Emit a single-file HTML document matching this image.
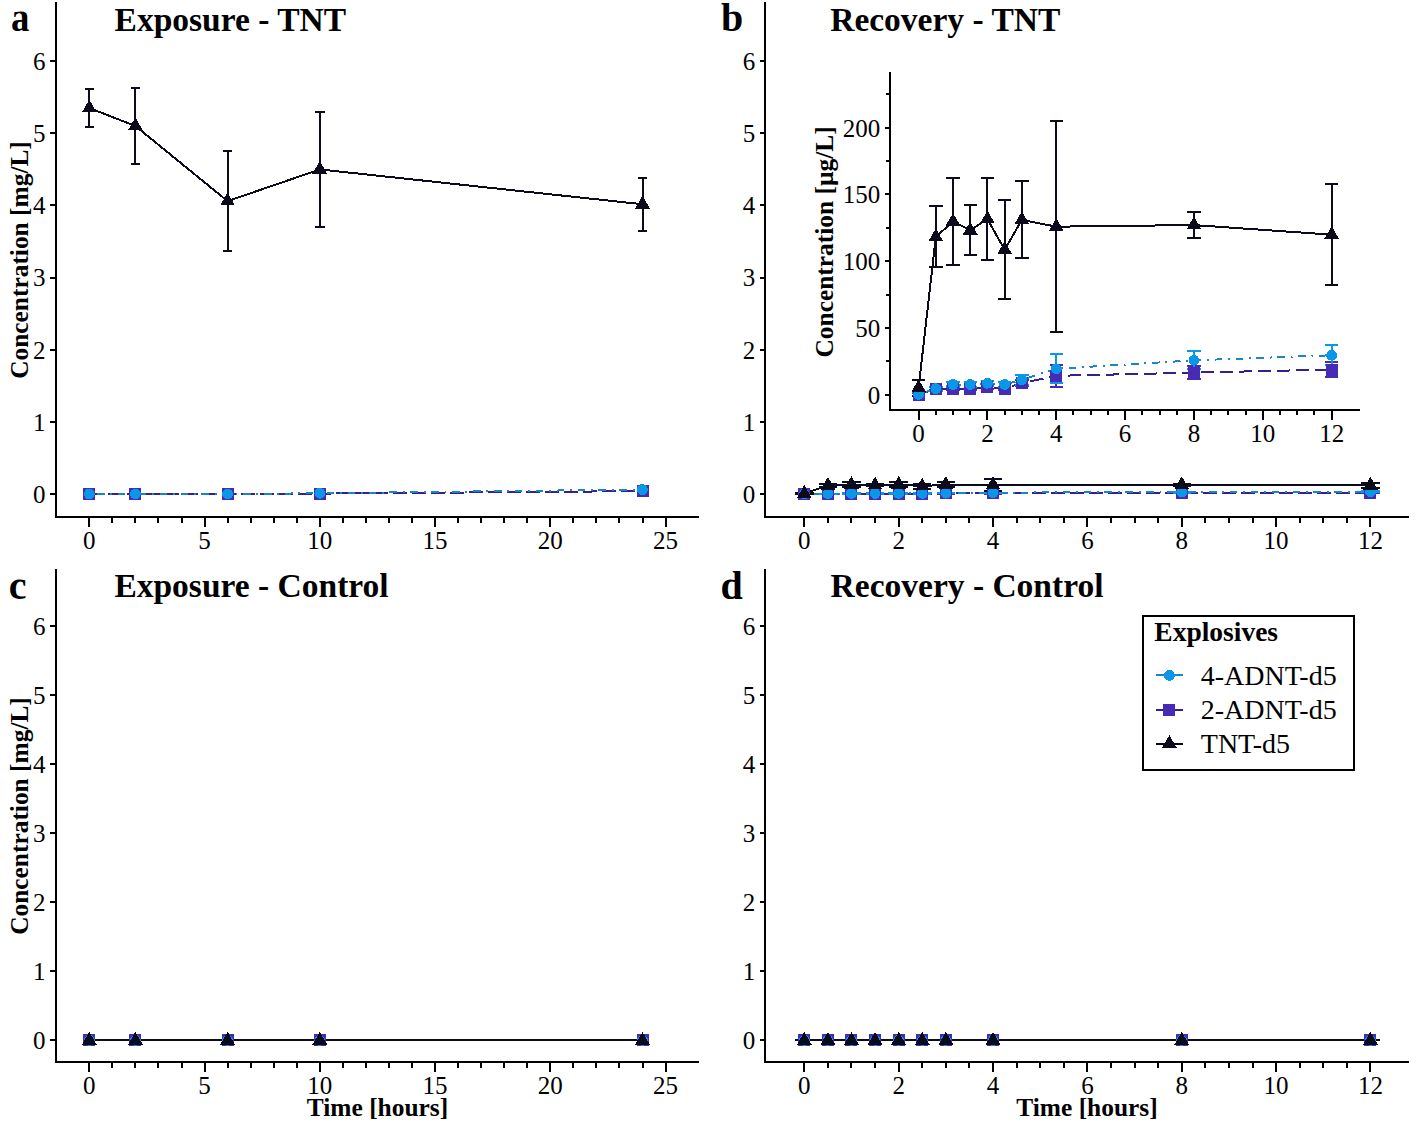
<!DOCTYPE html><html><head><meta charset="utf-8"><style>html,body{margin:0;padding:0;background:#fff;}svg{display:block;} line,rect,polyline,polygon,circle{shape-rendering:crispEdges;}text{font-family:"Liberation Serif", serif;fill:#000;}</style></head><body>
<svg width="1417" height="1127" viewBox="0 0 1417 1127">
<rect width="1417" height="1127" fill="#fff"/>
<line x1="55.7" y1="2.2" x2="55.7" y2="518.2" stroke="#000" stroke-width="2.0" stroke-linecap="butt"/>
<line x1="54.7" y1="517.2" x2="699.4" y2="517.2" stroke="#000" stroke-width="2.0" />
<line x1="50.2" y1="494" x2="55.7" y2="494" stroke="#000" stroke-width="2.0" />
<text x="45.6" y="502.8" font-size="25" text-anchor="end" >0</text>
<line x1="50.2" y1="421.87" x2="55.7" y2="421.87" stroke="#000" stroke-width="2.0" />
<text x="45.6" y="430.67" font-size="25" text-anchor="end" >1</text>
<line x1="50.2" y1="349.74" x2="55.7" y2="349.74" stroke="#000" stroke-width="2.0" />
<text x="45.6" y="358.54" font-size="25" text-anchor="end" >2</text>
<line x1="50.2" y1="277.61" x2="55.7" y2="277.61" stroke="#000" stroke-width="2.0" />
<text x="45.6" y="286.41" font-size="25" text-anchor="end" >3</text>
<line x1="50.2" y1="205.48" x2="55.7" y2="205.48" stroke="#000" stroke-width="2.0" />
<text x="45.6" y="214.28" font-size="25" text-anchor="end" >4</text>
<line x1="50.2" y1="133.35" x2="55.7" y2="133.35" stroke="#000" stroke-width="2.0" />
<text x="45.6" y="142.15" font-size="25" text-anchor="end" >5</text>
<line x1="50.2" y1="61.22" x2="55.7" y2="61.22" stroke="#000" stroke-width="2.0" />
<text x="45.6" y="70.02" font-size="25" text-anchor="end" >6</text>
<line x1="112.35" y1="517.2" x2="112.35" y2="522.5" stroke="#000" stroke-width="2.0" />
<line x1="135.4" y1="517.2" x2="135.4" y2="522.5" stroke="#000" stroke-width="2.0" />
<line x1="158.45" y1="517.2" x2="158.45" y2="522.5" stroke="#000" stroke-width="2.0" />
<line x1="181.5" y1="517.2" x2="181.5" y2="522.5" stroke="#000" stroke-width="2.0" />
<line x1="227.6" y1="517.2" x2="227.6" y2="522.5" stroke="#000" stroke-width="2.0" />
<line x1="250.65" y1="517.2" x2="250.65" y2="522.5" stroke="#000" stroke-width="2.0" />
<line x1="273.7" y1="517.2" x2="273.7" y2="522.5" stroke="#000" stroke-width="2.0" />
<line x1="296.75" y1="517.2" x2="296.75" y2="522.5" stroke="#000" stroke-width="2.0" />
<line x1="342.85" y1="517.2" x2="342.85" y2="522.5" stroke="#000" stroke-width="2.0" />
<line x1="365.9" y1="517.2" x2="365.9" y2="522.5" stroke="#000" stroke-width="2.0" />
<line x1="388.95" y1="517.2" x2="388.95" y2="522.5" stroke="#000" stroke-width="2.0" />
<line x1="412" y1="517.2" x2="412" y2="522.5" stroke="#000" stroke-width="2.0" />
<line x1="458.1" y1="517.2" x2="458.1" y2="522.5" stroke="#000" stroke-width="2.0" />
<line x1="481.15" y1="517.2" x2="481.15" y2="522.5" stroke="#000" stroke-width="2.0" />
<line x1="504.2" y1="517.2" x2="504.2" y2="522.5" stroke="#000" stroke-width="2.0" />
<line x1="527.25" y1="517.2" x2="527.25" y2="522.5" stroke="#000" stroke-width="2.0" />
<line x1="573.35" y1="517.2" x2="573.35" y2="522.5" stroke="#000" stroke-width="2.0" />
<line x1="596.4" y1="517.2" x2="596.4" y2="522.5" stroke="#000" stroke-width="2.0" />
<line x1="619.45" y1="517.2" x2="619.45" y2="522.5" stroke="#000" stroke-width="2.0" />
<line x1="642.5" y1="517.2" x2="642.5" y2="522.5" stroke="#000" stroke-width="2.0" />
<line x1="89.3" y1="517.2" x2="89.3" y2="527.2" stroke="#000" stroke-width="2.0" />
<text x="89.3" y="548.5" font-size="25" text-anchor="middle" >0</text>
<line x1="204.55" y1="517.2" x2="204.55" y2="527.2" stroke="#000" stroke-width="2.0" />
<text x="204.55" y="548.5" font-size="25" text-anchor="middle" >5</text>
<line x1="319.8" y1="517.2" x2="319.8" y2="527.2" stroke="#000" stroke-width="2.0" />
<text x="319.8" y="548.5" font-size="25" text-anchor="middle" >10</text>
<line x1="435.05" y1="517.2" x2="435.05" y2="527.2" stroke="#000" stroke-width="2.0" />
<text x="435.05" y="548.5" font-size="25" text-anchor="middle" >15</text>
<line x1="550.3" y1="517.2" x2="550.3" y2="527.2" stroke="#000" stroke-width="2.0" />
<text x="550.3" y="548.5" font-size="25" text-anchor="middle" >20</text>
<line x1="665.55" y1="517.2" x2="665.55" y2="527.2" stroke="#000" stroke-width="2.0" />
<text x="665.55" y="548.5" font-size="25" text-anchor="middle" >25</text>
<line x1="55.7" y1="569.2" x2="55.7" y2="1063.3" stroke="#000" stroke-width="2.0" stroke-linecap="butt"/>
<line x1="54.7" y1="1062.3" x2="699.4" y2="1062.3" stroke="#000" stroke-width="2.0" />
<line x1="50.2" y1="1040.4" x2="55.7" y2="1040.4" stroke="#000" stroke-width="2.0" />
<text x="45.6" y="1049.2" font-size="25" text-anchor="end" >0</text>
<line x1="50.2" y1="971.35" x2="55.7" y2="971.35" stroke="#000" stroke-width="2.0" />
<text x="45.6" y="980.15" font-size="25" text-anchor="end" >1</text>
<line x1="50.2" y1="902.3" x2="55.7" y2="902.3" stroke="#000" stroke-width="2.0" />
<text x="45.6" y="911.1" font-size="25" text-anchor="end" >2</text>
<line x1="50.2" y1="833.25" x2="55.7" y2="833.25" stroke="#000" stroke-width="2.0" />
<text x="45.6" y="842.05" font-size="25" text-anchor="end" >3</text>
<line x1="50.2" y1="764.2" x2="55.7" y2="764.2" stroke="#000" stroke-width="2.0" />
<text x="45.6" y="773" font-size="25" text-anchor="end" >4</text>
<line x1="50.2" y1="695.15" x2="55.7" y2="695.15" stroke="#000" stroke-width="2.0" />
<text x="45.6" y="703.95" font-size="25" text-anchor="end" >5</text>
<line x1="50.2" y1="626.1" x2="55.7" y2="626.1" stroke="#000" stroke-width="2.0" />
<text x="45.6" y="634.9" font-size="25" text-anchor="end" >6</text>
<line x1="112.35" y1="1062.3" x2="112.35" y2="1067.6" stroke="#000" stroke-width="2.0" />
<line x1="135.4" y1="1062.3" x2="135.4" y2="1067.6" stroke="#000" stroke-width="2.0" />
<line x1="158.45" y1="1062.3" x2="158.45" y2="1067.6" stroke="#000" stroke-width="2.0" />
<line x1="181.5" y1="1062.3" x2="181.5" y2="1067.6" stroke="#000" stroke-width="2.0" />
<line x1="227.6" y1="1062.3" x2="227.6" y2="1067.6" stroke="#000" stroke-width="2.0" />
<line x1="250.65" y1="1062.3" x2="250.65" y2="1067.6" stroke="#000" stroke-width="2.0" />
<line x1="273.7" y1="1062.3" x2="273.7" y2="1067.6" stroke="#000" stroke-width="2.0" />
<line x1="296.75" y1="1062.3" x2="296.75" y2="1067.6" stroke="#000" stroke-width="2.0" />
<line x1="342.85" y1="1062.3" x2="342.85" y2="1067.6" stroke="#000" stroke-width="2.0" />
<line x1="365.9" y1="1062.3" x2="365.9" y2="1067.6" stroke="#000" stroke-width="2.0" />
<line x1="388.95" y1="1062.3" x2="388.95" y2="1067.6" stroke="#000" stroke-width="2.0" />
<line x1="412" y1="1062.3" x2="412" y2="1067.6" stroke="#000" stroke-width="2.0" />
<line x1="458.1" y1="1062.3" x2="458.1" y2="1067.6" stroke="#000" stroke-width="2.0" />
<line x1="481.15" y1="1062.3" x2="481.15" y2="1067.6" stroke="#000" stroke-width="2.0" />
<line x1="504.2" y1="1062.3" x2="504.2" y2="1067.6" stroke="#000" stroke-width="2.0" />
<line x1="527.25" y1="1062.3" x2="527.25" y2="1067.6" stroke="#000" stroke-width="2.0" />
<line x1="573.35" y1="1062.3" x2="573.35" y2="1067.6" stroke="#000" stroke-width="2.0" />
<line x1="596.4" y1="1062.3" x2="596.4" y2="1067.6" stroke="#000" stroke-width="2.0" />
<line x1="619.45" y1="1062.3" x2="619.45" y2="1067.6" stroke="#000" stroke-width="2.0" />
<line x1="642.5" y1="1062.3" x2="642.5" y2="1067.6" stroke="#000" stroke-width="2.0" />
<line x1="89.3" y1="1062.3" x2="89.3" y2="1072.3" stroke="#000" stroke-width="2.0" />
<text x="89.3" y="1093.6" font-size="25" text-anchor="middle" >0</text>
<line x1="204.55" y1="1062.3" x2="204.55" y2="1072.3" stroke="#000" stroke-width="2.0" />
<text x="204.55" y="1093.6" font-size="25" text-anchor="middle" >5</text>
<line x1="319.8" y1="1062.3" x2="319.8" y2="1072.3" stroke="#000" stroke-width="2.0" />
<text x="319.8" y="1093.6" font-size="25" text-anchor="middle" >10</text>
<line x1="435.05" y1="1062.3" x2="435.05" y2="1072.3" stroke="#000" stroke-width="2.0" />
<text x="435.05" y="1093.6" font-size="25" text-anchor="middle" >15</text>
<line x1="550.3" y1="1062.3" x2="550.3" y2="1072.3" stroke="#000" stroke-width="2.0" />
<text x="550.3" y="1093.6" font-size="25" text-anchor="middle" >20</text>
<line x1="665.55" y1="1062.3" x2="665.55" y2="1072.3" stroke="#000" stroke-width="2.0" />
<text x="665.55" y="1093.6" font-size="25" text-anchor="middle" >25</text>
<line x1="765.3" y1="2.2" x2="765.3" y2="518.2" stroke="#000" stroke-width="2.0" stroke-linecap="butt"/>
<line x1="764.3" y1="517.2" x2="1409" y2="517.2" stroke="#000" stroke-width="2.0" />
<line x1="759.8" y1="494" x2="765.3" y2="494" stroke="#000" stroke-width="2.0" />
<text x="755.2" y="502.8" font-size="25" text-anchor="end" >0</text>
<line x1="759.8" y1="421.87" x2="765.3" y2="421.87" stroke="#000" stroke-width="2.0" />
<text x="755.2" y="430.67" font-size="25" text-anchor="end" >1</text>
<line x1="759.8" y1="349.74" x2="765.3" y2="349.74" stroke="#000" stroke-width="2.0" />
<text x="755.2" y="358.54" font-size="25" text-anchor="end" >2</text>
<line x1="759.8" y1="277.61" x2="765.3" y2="277.61" stroke="#000" stroke-width="2.0" />
<text x="755.2" y="286.41" font-size="25" text-anchor="end" >3</text>
<line x1="759.8" y1="205.48" x2="765.3" y2="205.48" stroke="#000" stroke-width="2.0" />
<text x="755.2" y="214.28" font-size="25" text-anchor="end" >4</text>
<line x1="759.8" y1="133.35" x2="765.3" y2="133.35" stroke="#000" stroke-width="2.0" />
<text x="755.2" y="142.15" font-size="25" text-anchor="end" >5</text>
<line x1="759.8" y1="61.22" x2="765.3" y2="61.22" stroke="#000" stroke-width="2.0" />
<text x="755.2" y="70.02" font-size="25" text-anchor="end" >6</text>
<line x1="827.89" y1="517.2" x2="827.89" y2="522.5" stroke="#000" stroke-width="2.0" />
<line x1="851.48" y1="517.2" x2="851.48" y2="522.5" stroke="#000" stroke-width="2.0" />
<line x1="875.07" y1="517.2" x2="875.07" y2="522.5" stroke="#000" stroke-width="2.0" />
<line x1="922.25" y1="517.2" x2="922.25" y2="522.5" stroke="#000" stroke-width="2.0" />
<line x1="945.84" y1="517.2" x2="945.84" y2="522.5" stroke="#000" stroke-width="2.0" />
<line x1="969.43" y1="517.2" x2="969.43" y2="522.5" stroke="#000" stroke-width="2.0" />
<line x1="1016.61" y1="517.2" x2="1016.61" y2="522.5" stroke="#000" stroke-width="2.0" />
<line x1="1040.2" y1="517.2" x2="1040.2" y2="522.5" stroke="#000" stroke-width="2.0" />
<line x1="1063.79" y1="517.2" x2="1063.79" y2="522.5" stroke="#000" stroke-width="2.0" />
<line x1="1110.97" y1="517.2" x2="1110.97" y2="522.5" stroke="#000" stroke-width="2.0" />
<line x1="1134.56" y1="517.2" x2="1134.56" y2="522.5" stroke="#000" stroke-width="2.0" />
<line x1="1158.15" y1="517.2" x2="1158.15" y2="522.5" stroke="#000" stroke-width="2.0" />
<line x1="1205.33" y1="517.2" x2="1205.33" y2="522.5" stroke="#000" stroke-width="2.0" />
<line x1="1228.92" y1="517.2" x2="1228.92" y2="522.5" stroke="#000" stroke-width="2.0" />
<line x1="1252.51" y1="517.2" x2="1252.51" y2="522.5" stroke="#000" stroke-width="2.0" />
<line x1="1299.69" y1="517.2" x2="1299.69" y2="522.5" stroke="#000" stroke-width="2.0" />
<line x1="1323.28" y1="517.2" x2="1323.28" y2="522.5" stroke="#000" stroke-width="2.0" />
<line x1="1346.87" y1="517.2" x2="1346.87" y2="522.5" stroke="#000" stroke-width="2.0" />
<line x1="804.3" y1="517.2" x2="804.3" y2="527.2" stroke="#000" stroke-width="2.0" />
<text x="804.3" y="548.5" font-size="25" text-anchor="middle" >0</text>
<line x1="898.66" y1="517.2" x2="898.66" y2="527.2" stroke="#000" stroke-width="2.0" />
<text x="898.66" y="548.5" font-size="25" text-anchor="middle" >2</text>
<line x1="993.02" y1="517.2" x2="993.02" y2="527.2" stroke="#000" stroke-width="2.0" />
<text x="993.02" y="548.5" font-size="25" text-anchor="middle" >4</text>
<line x1="1087.38" y1="517.2" x2="1087.38" y2="527.2" stroke="#000" stroke-width="2.0" />
<text x="1087.38" y="548.5" font-size="25" text-anchor="middle" >6</text>
<line x1="1181.74" y1="517.2" x2="1181.74" y2="527.2" stroke="#000" stroke-width="2.0" />
<text x="1181.74" y="548.5" font-size="25" text-anchor="middle" >8</text>
<line x1="1276.1" y1="517.2" x2="1276.1" y2="527.2" stroke="#000" stroke-width="2.0" />
<text x="1276.1" y="548.5" font-size="25" text-anchor="middle" >10</text>
<line x1="1370.46" y1="517.2" x2="1370.46" y2="527.2" stroke="#000" stroke-width="2.0" />
<text x="1370.46" y="548.5" font-size="25" text-anchor="middle" >12</text>
<line x1="765.3" y1="569.2" x2="765.3" y2="1063.3" stroke="#000" stroke-width="2.0" stroke-linecap="butt"/>
<line x1="764.3" y1="1062.3" x2="1409" y2="1062.3" stroke="#000" stroke-width="2.0" />
<line x1="759.8" y1="1040.4" x2="765.3" y2="1040.4" stroke="#000" stroke-width="2.0" />
<text x="755.2" y="1049.2" font-size="25" text-anchor="end" >0</text>
<line x1="759.8" y1="971.35" x2="765.3" y2="971.35" stroke="#000" stroke-width="2.0" />
<text x="755.2" y="980.15" font-size="25" text-anchor="end" >1</text>
<line x1="759.8" y1="902.3" x2="765.3" y2="902.3" stroke="#000" stroke-width="2.0" />
<text x="755.2" y="911.1" font-size="25" text-anchor="end" >2</text>
<line x1="759.8" y1="833.25" x2="765.3" y2="833.25" stroke="#000" stroke-width="2.0" />
<text x="755.2" y="842.05" font-size="25" text-anchor="end" >3</text>
<line x1="759.8" y1="764.2" x2="765.3" y2="764.2" stroke="#000" stroke-width="2.0" />
<text x="755.2" y="773" font-size="25" text-anchor="end" >4</text>
<line x1="759.8" y1="695.15" x2="765.3" y2="695.15" stroke="#000" stroke-width="2.0" />
<text x="755.2" y="703.95" font-size="25" text-anchor="end" >5</text>
<line x1="759.8" y1="626.1" x2="765.3" y2="626.1" stroke="#000" stroke-width="2.0" />
<text x="755.2" y="634.9" font-size="25" text-anchor="end" >6</text>
<line x1="827.89" y1="1062.3" x2="827.89" y2="1067.6" stroke="#000" stroke-width="2.0" />
<line x1="851.48" y1="1062.3" x2="851.48" y2="1067.6" stroke="#000" stroke-width="2.0" />
<line x1="875.07" y1="1062.3" x2="875.07" y2="1067.6" stroke="#000" stroke-width="2.0" />
<line x1="922.25" y1="1062.3" x2="922.25" y2="1067.6" stroke="#000" stroke-width="2.0" />
<line x1="945.84" y1="1062.3" x2="945.84" y2="1067.6" stroke="#000" stroke-width="2.0" />
<line x1="969.43" y1="1062.3" x2="969.43" y2="1067.6" stroke="#000" stroke-width="2.0" />
<line x1="1016.61" y1="1062.3" x2="1016.61" y2="1067.6" stroke="#000" stroke-width="2.0" />
<line x1="1040.2" y1="1062.3" x2="1040.2" y2="1067.6" stroke="#000" stroke-width="2.0" />
<line x1="1063.79" y1="1062.3" x2="1063.79" y2="1067.6" stroke="#000" stroke-width="2.0" />
<line x1="1110.97" y1="1062.3" x2="1110.97" y2="1067.6" stroke="#000" stroke-width="2.0" />
<line x1="1134.56" y1="1062.3" x2="1134.56" y2="1067.6" stroke="#000" stroke-width="2.0" />
<line x1="1158.15" y1="1062.3" x2="1158.15" y2="1067.6" stroke="#000" stroke-width="2.0" />
<line x1="1205.33" y1="1062.3" x2="1205.33" y2="1067.6" stroke="#000" stroke-width="2.0" />
<line x1="1228.92" y1="1062.3" x2="1228.92" y2="1067.6" stroke="#000" stroke-width="2.0" />
<line x1="1252.51" y1="1062.3" x2="1252.51" y2="1067.6" stroke="#000" stroke-width="2.0" />
<line x1="1299.69" y1="1062.3" x2="1299.69" y2="1067.6" stroke="#000" stroke-width="2.0" />
<line x1="1323.28" y1="1062.3" x2="1323.28" y2="1067.6" stroke="#000" stroke-width="2.0" />
<line x1="1346.87" y1="1062.3" x2="1346.87" y2="1067.6" stroke="#000" stroke-width="2.0" />
<line x1="804.3" y1="1062.3" x2="804.3" y2="1072.3" stroke="#000" stroke-width="2.0" />
<text x="804.3" y="1093.6" font-size="25" text-anchor="middle" >0</text>
<line x1="898.66" y1="1062.3" x2="898.66" y2="1072.3" stroke="#000" stroke-width="2.0" />
<text x="898.66" y="1093.6" font-size="25" text-anchor="middle" >2</text>
<line x1="993.02" y1="1062.3" x2="993.02" y2="1072.3" stroke="#000" stroke-width="2.0" />
<text x="993.02" y="1093.6" font-size="25" text-anchor="middle" >4</text>
<line x1="1087.38" y1="1062.3" x2="1087.38" y2="1072.3" stroke="#000" stroke-width="2.0" />
<text x="1087.38" y="1093.6" font-size="25" text-anchor="middle" >6</text>
<line x1="1181.74" y1="1062.3" x2="1181.74" y2="1072.3" stroke="#000" stroke-width="2.0" />
<text x="1181.74" y="1093.6" font-size="25" text-anchor="middle" >8</text>
<line x1="1276.1" y1="1062.3" x2="1276.1" y2="1072.3" stroke="#000" stroke-width="2.0" />
<text x="1276.1" y="1093.6" font-size="25" text-anchor="middle" >10</text>
<line x1="1370.46" y1="1062.3" x2="1370.46" y2="1072.3" stroke="#000" stroke-width="2.0" />
<text x="1370.46" y="1093.6" font-size="25" text-anchor="middle" >12</text>
<text x="114.6" y="30.5" font-size="33.5" text-anchor="start" font-weight="bold" >Exposure - TNT</text>
<text transform="translate(11.1,31.4) scale(0.92,1)" font-size="40" font-weight="bold">a</text>
<text x="830.2" y="30.5" font-size="33.5" text-anchor="start" font-weight="bold" >Recovery - TNT</text>
<text x="721.1" y="31.4" font-size="40" text-anchor="start" font-weight="bold" >b</text>
<text x="114.4" y="596.8" font-size="33.5" text-anchor="start" font-weight="bold" >Exposure - Control</text>
<text x="8.7" y="598.5" font-size="40" text-anchor="start" font-weight="bold" >c</text>
<text x="830.6" y="596.8" font-size="33.5" text-anchor="start" font-weight="bold" >Recovery - Control</text>
<text x="720.6" y="598.5" font-size="40" text-anchor="start" font-weight="bold" >d</text>
<text transform="translate(28.4,260.0) rotate(-90)" font-size="25.4" font-weight="bold" text-anchor="middle">Concentration [mg/L]</text>
<text transform="translate(28.4,816.0) rotate(-90)" font-size="25.4" font-weight="bold" text-anchor="middle">Concentration [mg/L]</text>
<text x="377.5" y="1115.9" font-size="25.4" text-anchor="middle" font-weight="bold" >Time [hours]</text>
<text x="1087" y="1115.9" font-size="25.4" text-anchor="middle" font-weight="bold" >Time [hours]</text>
<polyline points="89.3,494 135.4,494 227.6,494 319.8,493.64 642.5,491.11" fill="none" stroke="#36208f" stroke-width="2" stroke-dasharray="13.299999999999999,5.699999999999999" stroke-linejoin="round"/>
<polyline points="89.3,494 135.4,494 227.6,494 319.8,493.28 642.5,489.53" fill="none" stroke="#1b86c4" stroke-width="2" stroke-dasharray="1.9,5.699999999999999,7.6,5.699999999999999" stroke-linejoin="round"/>
<polyline points="89.3,108.03 135.4,125.99 227.6,201.15 319.8,169.42 642.5,204.25" fill="none" stroke="#0b0b1c" stroke-width="2"  stroke-linejoin="round"/>
<line x1="84.6" y1="494" x2="94" y2="494" stroke="#472bb5" stroke-width="2" />
<line x1="84.6" y1="494" x2="94" y2="494" stroke="#472bb5" stroke-width="2" />
<line x1="130.7" y1="494" x2="140.1" y2="494" stroke="#472bb5" stroke-width="2" />
<line x1="130.7" y1="494" x2="140.1" y2="494" stroke="#472bb5" stroke-width="2" />
<line x1="222.9" y1="494" x2="232.3" y2="494" stroke="#472bb5" stroke-width="2" />
<line x1="222.9" y1="494" x2="232.3" y2="494" stroke="#472bb5" stroke-width="2" />
<line x1="319.8" y1="493.35" x2="319.8" y2="493.93" stroke="#472bb5" stroke-width="2" />
<line x1="315.1" y1="493.35" x2="324.5" y2="493.35" stroke="#472bb5" stroke-width="2" />
<line x1="315.1" y1="493.93" x2="324.5" y2="493.93" stroke="#472bb5" stroke-width="2" />
<line x1="642.5" y1="490.54" x2="642.5" y2="491.69" stroke="#472bb5" stroke-width="2" />
<line x1="637.8" y1="490.54" x2="647.2" y2="490.54" stroke="#472bb5" stroke-width="2" />
<line x1="637.8" y1="491.69" x2="647.2" y2="491.69" stroke="#472bb5" stroke-width="2" />
<line x1="84.6" y1="494" x2="94" y2="494" stroke="#0a97e8" stroke-width="2" />
<line x1="84.6" y1="494" x2="94" y2="494" stroke="#0a97e8" stroke-width="2" />
<line x1="130.7" y1="494" x2="140.1" y2="494" stroke="#0a97e8" stroke-width="2" />
<line x1="130.7" y1="494" x2="140.1" y2="494" stroke="#0a97e8" stroke-width="2" />
<line x1="222.9" y1="494" x2="232.3" y2="494" stroke="#0a97e8" stroke-width="2" />
<line x1="222.9" y1="494" x2="232.3" y2="494" stroke="#0a97e8" stroke-width="2" />
<line x1="319.8" y1="492.92" x2="319.8" y2="493.64" stroke="#0a97e8" stroke-width="2" />
<line x1="315.1" y1="492.92" x2="324.5" y2="492.92" stroke="#0a97e8" stroke-width="2" />
<line x1="315.1" y1="493.64" x2="324.5" y2="493.64" stroke="#0a97e8" stroke-width="2" />
<line x1="642.5" y1="488.81" x2="642.5" y2="490.25" stroke="#0a97e8" stroke-width="2" />
<line x1="637.8" y1="488.81" x2="647.2" y2="488.81" stroke="#0a97e8" stroke-width="2" />
<line x1="637.8" y1="490.25" x2="647.2" y2="490.25" stroke="#0a97e8" stroke-width="2" />
<line x1="89.3" y1="89.49" x2="89.3" y2="126.57" stroke="#0b0b1c" stroke-width="2" />
<line x1="84.6" y1="89.49" x2="94" y2="89.49" stroke="#0b0b1c" stroke-width="2" />
<line x1="84.6" y1="126.57" x2="94" y2="126.57" stroke="#0b0b1c" stroke-width="2" />
<line x1="135.4" y1="88.27" x2="135.4" y2="163.72" stroke="#0b0b1c" stroke-width="2" />
<line x1="130.7" y1="88.27" x2="140.1" y2="88.27" stroke="#0b0b1c" stroke-width="2" />
<line x1="130.7" y1="163.72" x2="140.1" y2="163.72" stroke="#0b0b1c" stroke-width="2" />
<line x1="227.6" y1="151.02" x2="227.6" y2="251.28" stroke="#0b0b1c" stroke-width="2" />
<line x1="222.9" y1="151.02" x2="232.3" y2="151.02" stroke="#0b0b1c" stroke-width="2" />
<line x1="222.9" y1="251.28" x2="232.3" y2="251.28" stroke="#0b0b1c" stroke-width="2" />
<line x1="319.8" y1="111.71" x2="319.8" y2="227.12" stroke="#0b0b1c" stroke-width="2" />
<line x1="315.1" y1="111.71" x2="324.5" y2="111.71" stroke="#0b0b1c" stroke-width="2" />
<line x1="315.1" y1="227.12" x2="324.5" y2="227.12" stroke="#0b0b1c" stroke-width="2" />
<line x1="642.5" y1="178" x2="642.5" y2="230.51" stroke="#0b0b1c" stroke-width="2" />
<line x1="637.8" y1="178" x2="647.2" y2="178" stroke="#0b0b1c" stroke-width="2" />
<line x1="637.8" y1="230.51" x2="647.2" y2="230.51" stroke="#0b0b1c" stroke-width="2" />
<rect x="83.3" y="488" width="12" height="12" fill="#472bb5"/>
<rect x="129.4" y="488" width="12" height="12" fill="#472bb5"/>
<rect x="221.6" y="488" width="12" height="12" fill="#472bb5"/>
<rect x="313.8" y="487.64" width="12" height="12" fill="#472bb5"/>
<rect x="636.5" y="485.11" width="12" height="12" fill="#472bb5"/>
<circle cx="89.3" cy="494" r="5.4" fill="#0a97e8"/>
<circle cx="135.4" cy="494" r="5.4" fill="#0a97e8"/>
<circle cx="227.6" cy="494" r="5.4" fill="#0a97e8"/>
<circle cx="319.8" cy="493.28" r="5.4" fill="#0a97e8"/>
<circle cx="642.5" cy="489.53" r="5.4" fill="#0a97e8"/>
<polygon points="89.3,99.49 96.7,112.3 81.9,112.3" fill="#0b0b1c"/>
<polygon points="135.4,117.45 142.8,130.27 128,130.27" fill="#0b0b1c"/>
<polygon points="227.6,192.61 235,205.42 220.2,205.42" fill="#0b0b1c"/>
<polygon points="319.8,160.87 327.2,173.69 312.4,173.69" fill="#0b0b1c"/>
<polygon points="642.5,195.71 649.9,208.53 635.1,208.53" fill="#0b0b1c"/>
<polyline points="89.3,1040.4 135.4,1040.4 227.6,1040.4 319.8,1040.4 642.5,1040.4" fill="none" stroke="#36208f" stroke-width="2" stroke-dasharray="13.299999999999999,5.699999999999999" stroke-linejoin="round"/>
<polyline points="89.3,1040.4 135.4,1040.4 227.6,1040.4 319.8,1040.4 642.5,1040.4" fill="none" stroke="#1b86c4" stroke-width="2" stroke-dasharray="1.9,5.699999999999999,7.6,5.699999999999999" stroke-linejoin="round"/>
<polyline points="89.3,1040.4 135.4,1040.4 227.6,1040.4 319.8,1040.4 642.5,1040.4" fill="none" stroke="#0b0b1c" stroke-width="2"  stroke-linejoin="round"/>
<line x1="84.6" y1="1040.4" x2="94" y2="1040.4" stroke="#472bb5" stroke-width="2" />
<line x1="84.6" y1="1040.4" x2="94" y2="1040.4" stroke="#472bb5" stroke-width="2" />
<line x1="130.7" y1="1040.4" x2="140.1" y2="1040.4" stroke="#472bb5" stroke-width="2" />
<line x1="130.7" y1="1040.4" x2="140.1" y2="1040.4" stroke="#472bb5" stroke-width="2" />
<line x1="222.9" y1="1040.4" x2="232.3" y2="1040.4" stroke="#472bb5" stroke-width="2" />
<line x1="222.9" y1="1040.4" x2="232.3" y2="1040.4" stroke="#472bb5" stroke-width="2" />
<line x1="315.1" y1="1040.4" x2="324.5" y2="1040.4" stroke="#472bb5" stroke-width="2" />
<line x1="315.1" y1="1040.4" x2="324.5" y2="1040.4" stroke="#472bb5" stroke-width="2" />
<line x1="637.8" y1="1040.4" x2="647.2" y2="1040.4" stroke="#472bb5" stroke-width="2" />
<line x1="637.8" y1="1040.4" x2="647.2" y2="1040.4" stroke="#472bb5" stroke-width="2" />
<line x1="84.6" y1="1040.4" x2="94" y2="1040.4" stroke="#0a97e8" stroke-width="2" />
<line x1="84.6" y1="1040.4" x2="94" y2="1040.4" stroke="#0a97e8" stroke-width="2" />
<line x1="130.7" y1="1040.4" x2="140.1" y2="1040.4" stroke="#0a97e8" stroke-width="2" />
<line x1="130.7" y1="1040.4" x2="140.1" y2="1040.4" stroke="#0a97e8" stroke-width="2" />
<line x1="222.9" y1="1040.4" x2="232.3" y2="1040.4" stroke="#0a97e8" stroke-width="2" />
<line x1="222.9" y1="1040.4" x2="232.3" y2="1040.4" stroke="#0a97e8" stroke-width="2" />
<line x1="315.1" y1="1040.4" x2="324.5" y2="1040.4" stroke="#0a97e8" stroke-width="2" />
<line x1="315.1" y1="1040.4" x2="324.5" y2="1040.4" stroke="#0a97e8" stroke-width="2" />
<line x1="637.8" y1="1040.4" x2="647.2" y2="1040.4" stroke="#0a97e8" stroke-width="2" />
<line x1="637.8" y1="1040.4" x2="647.2" y2="1040.4" stroke="#0a97e8" stroke-width="2" />
<line x1="84.6" y1="1040.4" x2="94" y2="1040.4" stroke="#0b0b1c" stroke-width="2" />
<line x1="84.6" y1="1040.4" x2="94" y2="1040.4" stroke="#0b0b1c" stroke-width="2" />
<line x1="130.7" y1="1040.4" x2="140.1" y2="1040.4" stroke="#0b0b1c" stroke-width="2" />
<line x1="130.7" y1="1040.4" x2="140.1" y2="1040.4" stroke="#0b0b1c" stroke-width="2" />
<line x1="222.9" y1="1040.4" x2="232.3" y2="1040.4" stroke="#0b0b1c" stroke-width="2" />
<line x1="222.9" y1="1040.4" x2="232.3" y2="1040.4" stroke="#0b0b1c" stroke-width="2" />
<line x1="315.1" y1="1040.4" x2="324.5" y2="1040.4" stroke="#0b0b1c" stroke-width="2" />
<line x1="315.1" y1="1040.4" x2="324.5" y2="1040.4" stroke="#0b0b1c" stroke-width="2" />
<line x1="637.8" y1="1040.4" x2="647.2" y2="1040.4" stroke="#0b0b1c" stroke-width="2" />
<line x1="637.8" y1="1040.4" x2="647.2" y2="1040.4" stroke="#0b0b1c" stroke-width="2" />
<rect x="83.3" y="1034.4" width="12" height="12" fill="#472bb5"/>
<rect x="129.4" y="1034.4" width="12" height="12" fill="#472bb5"/>
<rect x="221.6" y="1034.4" width="12" height="12" fill="#472bb5"/>
<rect x="313.8" y="1034.4" width="12" height="12" fill="#472bb5"/>
<rect x="636.5" y="1034.4" width="12" height="12" fill="#472bb5"/>
<circle cx="89.3" cy="1040.4" r="5.4" fill="#0a97e8"/>
<circle cx="135.4" cy="1040.4" r="5.4" fill="#0a97e8"/>
<circle cx="227.6" cy="1040.4" r="5.4" fill="#0a97e8"/>
<circle cx="319.8" cy="1040.4" r="5.4" fill="#0a97e8"/>
<circle cx="642.5" cy="1040.4" r="5.4" fill="#0a97e8"/>
<polygon points="89.3,1031.86 96.7,1044.67 81.9,1044.67" fill="#0b0b1c"/>
<polygon points="135.4,1031.86 142.8,1044.67 128,1044.67" fill="#0b0b1c"/>
<polygon points="227.6,1031.86 235,1044.67 220.2,1044.67" fill="#0b0b1c"/>
<polygon points="319.8,1031.86 327.2,1044.67 312.4,1044.67" fill="#0b0b1c"/>
<polygon points="642.5,1031.86 649.9,1044.67 635.1,1044.67" fill="#0b0b1c"/>
<polyline points="804.3,494 827.89,493.67 851.48,493.67 875.07,493.67 898.66,493.6 922.25,493.67 945.84,493.37 993.02,492.98 1181.74,492.8 1370.46,492.64" fill="none" stroke="#36208f" stroke-width="2" stroke-dasharray="13.299999999999999,5.699999999999999" stroke-linejoin="round"/>
<polyline points="804.3,493.98 827.89,493.67 851.48,493.44 875.07,493.44 898.66,493.38 922.25,493.44 945.84,493.18 993.02,492.59 1181.74,492.14 1370.46,491.86" fill="none" stroke="#1b86c4" stroke-width="2" stroke-dasharray="1.9,5.699999999999999,7.6,5.699999999999999" stroke-linejoin="round"/>
<polyline points="804.3,493.62 827.89,485.47 851.48,484.64 875.07,485.11 898.66,484.51 922.25,486.17 945.84,484.55 993.02,484.92 1181.74,484.83 1370.46,485.35" fill="none" stroke="#0b0b1c" stroke-width="2"  stroke-linejoin="round"/>
<line x1="795.1" y1="493.93" x2="813.5" y2="493.93" stroke="#472bb5" stroke-width="2" />
<line x1="795.1" y1="494.07" x2="813.5" y2="494.07" stroke="#472bb5" stroke-width="2" />
<line x1="818.69" y1="493.58" x2="837.09" y2="493.58" stroke="#472bb5" stroke-width="2" />
<line x1="818.69" y1="493.75" x2="837.09" y2="493.75" stroke="#472bb5" stroke-width="2" />
<line x1="842.28" y1="493.58" x2="860.68" y2="493.58" stroke="#472bb5" stroke-width="2" />
<line x1="842.28" y1="493.75" x2="860.68" y2="493.75" stroke="#472bb5" stroke-width="2" />
<line x1="865.87" y1="493.58" x2="884.27" y2="493.58" stroke="#472bb5" stroke-width="2" />
<line x1="865.87" y1="493.75" x2="884.27" y2="493.75" stroke="#472bb5" stroke-width="2" />
<line x1="889.46" y1="493.5" x2="907.86" y2="493.5" stroke="#472bb5" stroke-width="2" />
<line x1="889.46" y1="493.71" x2="907.86" y2="493.71" stroke="#472bb5" stroke-width="2" />
<line x1="913.05" y1="493.58" x2="931.45" y2="493.58" stroke="#472bb5" stroke-width="2" />
<line x1="913.05" y1="493.75" x2="931.45" y2="493.75" stroke="#472bb5" stroke-width="2" />
<line x1="936.64" y1="493.22" x2="955.04" y2="493.22" stroke="#472bb5" stroke-width="2" />
<line x1="936.64" y1="493.51" x2="955.04" y2="493.51" stroke="#472bb5" stroke-width="2" />
<line x1="993.02" y1="492.37" x2="993.02" y2="493.58" stroke="#472bb5" stroke-width="2" />
<line x1="983.82" y1="492.37" x2="1002.22" y2="492.37" stroke="#472bb5" stroke-width="2" />
<line x1="983.82" y1="493.58" x2="1002.22" y2="493.58" stroke="#472bb5" stroke-width="2" />
<line x1="1181.74" y1="492.44" x2="1181.74" y2="493.16" stroke="#472bb5" stroke-width="2" />
<line x1="1172.54" y1="492.44" x2="1190.94" y2="492.44" stroke="#472bb5" stroke-width="2" />
<line x1="1172.54" y1="493.16" x2="1190.94" y2="493.16" stroke="#472bb5" stroke-width="2" />
<line x1="1370.46" y1="492.23" x2="1370.46" y2="493.04" stroke="#472bb5" stroke-width="2" />
<line x1="1361.26" y1="492.23" x2="1379.66" y2="492.23" stroke="#472bb5" stroke-width="2" />
<line x1="1361.26" y1="493.04" x2="1379.66" y2="493.04" stroke="#472bb5" stroke-width="2" />
<line x1="795.1" y1="493.87" x2="813.5" y2="493.87" stroke="#0a97e8" stroke-width="2" />
<line x1="795.1" y1="494.09" x2="813.5" y2="494.09" stroke="#0a97e8" stroke-width="2" />
<line x1="818.69" y1="493.55" x2="837.09" y2="493.55" stroke="#0a97e8" stroke-width="2" />
<line x1="818.69" y1="493.78" x2="837.09" y2="493.78" stroke="#0a97e8" stroke-width="2" />
<line x1="842.28" y1="493.33" x2="860.68" y2="493.33" stroke="#0a97e8" stroke-width="2" />
<line x1="842.28" y1="493.56" x2="860.68" y2="493.56" stroke="#0a97e8" stroke-width="2" />
<line x1="865.87" y1="493.33" x2="884.27" y2="493.33" stroke="#0a97e8" stroke-width="2" />
<line x1="865.87" y1="493.56" x2="884.27" y2="493.56" stroke="#0a97e8" stroke-width="2" />
<line x1="889.46" y1="493.24" x2="907.86" y2="493.24" stroke="#0a97e8" stroke-width="2" />
<line x1="889.46" y1="493.52" x2="907.86" y2="493.52" stroke="#0a97e8" stroke-width="2" />
<line x1="913.05" y1="493.33" x2="931.45" y2="493.33" stroke="#0a97e8" stroke-width="2" />
<line x1="913.05" y1="493.56" x2="931.45" y2="493.56" stroke="#0a97e8" stroke-width="2" />
<line x1="945.84" y1="492.93" x2="945.84" y2="493.44" stroke="#0a97e8" stroke-width="2" />
<line x1="936.64" y1="492.93" x2="955.04" y2="492.93" stroke="#0a97e8" stroke-width="2" />
<line x1="936.64" y1="493.44" x2="955.04" y2="493.44" stroke="#0a97e8" stroke-width="2" />
<line x1="993.02" y1="491.8" x2="993.02" y2="493.39" stroke="#0a97e8" stroke-width="2" />
<line x1="983.82" y1="491.8" x2="1002.22" y2="491.8" stroke="#0a97e8" stroke-width="2" />
<line x1="983.82" y1="493.39" x2="1002.22" y2="493.39" stroke="#0a97e8" stroke-width="2" />
<line x1="1181.74" y1="491.66" x2="1181.74" y2="492.62" stroke="#0a97e8" stroke-width="2" />
<line x1="1172.54" y1="491.66" x2="1190.94" y2="491.66" stroke="#0a97e8" stroke-width="2" />
<line x1="1172.54" y1="492.62" x2="1190.94" y2="492.62" stroke="#0a97e8" stroke-width="2" />
<line x1="1370.46" y1="491.32" x2="1370.46" y2="492.41" stroke="#0a97e8" stroke-width="2" />
<line x1="1361.26" y1="491.32" x2="1379.66" y2="491.32" stroke="#0a97e8" stroke-width="2" />
<line x1="1361.26" y1="492.41" x2="1379.66" y2="492.41" stroke="#0a97e8" stroke-width="2" />
<line x1="804.3" y1="493.19" x2="804.3" y2="494.06" stroke="#0b0b1c" stroke-width="2" />
<line x1="795.1" y1="493.19" x2="813.5" y2="493.19" stroke="#0b0b1c" stroke-width="2" />
<line x1="795.1" y1="494.06" x2="813.5" y2="494.06" stroke="#0b0b1c" stroke-width="2" />
<line x1="827.89" y1="483.83" x2="827.89" y2="487.12" stroke="#0b0b1c" stroke-width="2" />
<line x1="818.69" y1="483.83" x2="837.09" y2="483.83" stroke="#0b0b1c" stroke-width="2" />
<line x1="818.69" y1="487.12" x2="837.09" y2="487.12" stroke="#0b0b1c" stroke-width="2" />
<line x1="851.48" y1="482.29" x2="851.48" y2="486.99" stroke="#0b0b1c" stroke-width="2" />
<line x1="842.28" y1="482.29" x2="860.68" y2="482.29" stroke="#0b0b1c" stroke-width="2" />
<line x1="842.28" y1="486.99" x2="860.68" y2="486.99" stroke="#0b0b1c" stroke-width="2" />
<line x1="875.07" y1="483.76" x2="875.07" y2="486.46" stroke="#0b0b1c" stroke-width="2" />
<line x1="865.87" y1="483.76" x2="884.27" y2="483.76" stroke="#0b0b1c" stroke-width="2" />
<line x1="865.87" y1="486.46" x2="884.27" y2="486.46" stroke="#0b0b1c" stroke-width="2" />
<line x1="898.66" y1="482.29" x2="898.66" y2="486.73" stroke="#0b0b1c" stroke-width="2" />
<line x1="889.46" y1="482.29" x2="907.86" y2="482.29" stroke="#0b0b1c" stroke-width="2" />
<line x1="889.46" y1="486.73" x2="907.86" y2="486.73" stroke="#0b0b1c" stroke-width="2" />
<line x1="922.25" y1="483.51" x2="922.25" y2="488.83" stroke="#0b0b1c" stroke-width="2" />
<line x1="913.05" y1="483.51" x2="931.45" y2="483.51" stroke="#0b0b1c" stroke-width="2" />
<line x1="913.05" y1="488.83" x2="931.45" y2="488.83" stroke="#0b0b1c" stroke-width="2" />
<line x1="945.84" y1="482.47" x2="945.84" y2="486.63" stroke="#0b0b1c" stroke-width="2" />
<line x1="936.64" y1="482.47" x2="955.04" y2="482.47" stroke="#0b0b1c" stroke-width="2" />
<line x1="936.64" y1="486.63" x2="955.04" y2="486.63" stroke="#0b0b1c" stroke-width="2" />
<line x1="993.02" y1="479.22" x2="993.02" y2="490.62" stroke="#0b0b1c" stroke-width="2" />
<line x1="983.82" y1="479.22" x2="1002.22" y2="479.22" stroke="#0b0b1c" stroke-width="2" />
<line x1="983.82" y1="490.62" x2="1002.22" y2="490.62" stroke="#0b0b1c" stroke-width="2" />
<line x1="1181.74" y1="484.11" x2="1181.74" y2="485.55" stroke="#0b0b1c" stroke-width="2" />
<line x1="1172.54" y1="484.11" x2="1190.94" y2="484.11" stroke="#0b0b1c" stroke-width="2" />
<line x1="1172.54" y1="485.55" x2="1190.94" y2="485.55" stroke="#0b0b1c" stroke-width="2" />
<line x1="1370.46" y1="482.63" x2="1370.46" y2="488.08" stroke="#0b0b1c" stroke-width="2" />
<line x1="1361.26" y1="482.63" x2="1379.66" y2="482.63" stroke="#0b0b1c" stroke-width="2" />
<line x1="1361.26" y1="488.08" x2="1379.66" y2="488.08" stroke="#0b0b1c" stroke-width="2" />
<rect x="798.3" y="488" width="12" height="12" fill="#472bb5"/>
<rect x="821.89" y="487.67" width="12" height="12" fill="#472bb5"/>
<rect x="845.48" y="487.67" width="12" height="12" fill="#472bb5"/>
<rect x="869.07" y="487.67" width="12" height="12" fill="#472bb5"/>
<rect x="892.66" y="487.6" width="12" height="12" fill="#472bb5"/>
<rect x="916.25" y="487.67" width="12" height="12" fill="#472bb5"/>
<rect x="939.84" y="487.37" width="12" height="12" fill="#472bb5"/>
<rect x="987.02" y="486.98" width="12" height="12" fill="#472bb5"/>
<rect x="1175.74" y="486.8" width="12" height="12" fill="#472bb5"/>
<rect x="1364.46" y="486.64" width="12" height="12" fill="#472bb5"/>
<circle cx="804.3" cy="493.98" r="5.4" fill="#0a97e8"/>
<circle cx="827.89" cy="493.67" r="5.4" fill="#0a97e8"/>
<circle cx="851.48" cy="493.44" r="5.4" fill="#0a97e8"/>
<circle cx="875.07" cy="493.44" r="5.4" fill="#0a97e8"/>
<circle cx="898.66" cy="493.38" r="5.4" fill="#0a97e8"/>
<circle cx="922.25" cy="493.44" r="5.4" fill="#0a97e8"/>
<circle cx="945.84" cy="493.18" r="5.4" fill="#0a97e8"/>
<circle cx="993.02" cy="492.59" r="5.4" fill="#0a97e8"/>
<circle cx="1181.74" cy="492.14" r="5.4" fill="#0a97e8"/>
<circle cx="1370.46" cy="491.86" r="5.4" fill="#0a97e8"/>
<polygon points="804.3,485.08 811.7,497.9 796.9,497.9" fill="#0b0b1c"/>
<polygon points="827.89,476.93 835.29,489.75 820.49,489.75" fill="#0b0b1c"/>
<polygon points="851.48,476.09 858.88,488.91 844.08,488.91" fill="#0b0b1c"/>
<polygon points="875.07,476.57 882.47,489.39 867.67,489.39" fill="#0b0b1c"/>
<polygon points="898.66,475.96 906.06,488.78 891.26,488.78" fill="#0b0b1c"/>
<polygon points="922.25,477.62 929.65,490.44 914.85,490.44" fill="#0b0b1c"/>
<polygon points="945.84,476.01 953.24,488.82 938.44,488.82" fill="#0b0b1c"/>
<polygon points="993.02,476.37 1000.42,489.19 985.62,489.19" fill="#0b0b1c"/>
<polygon points="1181.74,476.29 1189.14,489.1 1174.34,489.1" fill="#0b0b1c"/>
<polygon points="1370.46,476.81 1377.86,489.62 1363.06,489.62" fill="#0b0b1c"/>
<polyline points="804.3,1040.4 827.89,1040.4 851.48,1040.4 875.07,1040.4 898.66,1040.4 922.25,1040.4 945.84,1040.4 993.02,1040.4 1181.74,1040.4 1370.46,1040.4" fill="none" stroke="#36208f" stroke-width="2" stroke-dasharray="13.299999999999999,5.699999999999999" stroke-linejoin="round"/>
<polyline points="804.3,1040.4 827.89,1040.4 851.48,1040.4 875.07,1040.4 898.66,1040.4 922.25,1040.4 945.84,1040.4 993.02,1040.4 1181.74,1040.4 1370.46,1040.4" fill="none" stroke="#1b86c4" stroke-width="2" stroke-dasharray="1.9,5.699999999999999,7.6,5.699999999999999" stroke-linejoin="round"/>
<polyline points="804.3,1040.4 827.89,1040.4 851.48,1040.4 875.07,1040.4 898.66,1040.4 922.25,1040.4 945.84,1040.4 993.02,1040.4 1181.74,1040.4 1370.46,1040.4" fill="none" stroke="#0b0b1c" stroke-width="2"  stroke-linejoin="round"/>
<line x1="795.1" y1="1040.4" x2="813.5" y2="1040.4" stroke="#472bb5" stroke-width="2" />
<line x1="795.1" y1="1040.4" x2="813.5" y2="1040.4" stroke="#472bb5" stroke-width="2" />
<line x1="818.69" y1="1040.4" x2="837.09" y2="1040.4" stroke="#472bb5" stroke-width="2" />
<line x1="818.69" y1="1040.4" x2="837.09" y2="1040.4" stroke="#472bb5" stroke-width="2" />
<line x1="842.28" y1="1040.4" x2="860.68" y2="1040.4" stroke="#472bb5" stroke-width="2" />
<line x1="842.28" y1="1040.4" x2="860.68" y2="1040.4" stroke="#472bb5" stroke-width="2" />
<line x1="865.87" y1="1040.4" x2="884.27" y2="1040.4" stroke="#472bb5" stroke-width="2" />
<line x1="865.87" y1="1040.4" x2="884.27" y2="1040.4" stroke="#472bb5" stroke-width="2" />
<line x1="889.46" y1="1040.4" x2="907.86" y2="1040.4" stroke="#472bb5" stroke-width="2" />
<line x1="889.46" y1="1040.4" x2="907.86" y2="1040.4" stroke="#472bb5" stroke-width="2" />
<line x1="913.05" y1="1040.4" x2="931.45" y2="1040.4" stroke="#472bb5" stroke-width="2" />
<line x1="913.05" y1="1040.4" x2="931.45" y2="1040.4" stroke="#472bb5" stroke-width="2" />
<line x1="936.64" y1="1040.4" x2="955.04" y2="1040.4" stroke="#472bb5" stroke-width="2" />
<line x1="936.64" y1="1040.4" x2="955.04" y2="1040.4" stroke="#472bb5" stroke-width="2" />
<line x1="983.82" y1="1040.4" x2="1002.22" y2="1040.4" stroke="#472bb5" stroke-width="2" />
<line x1="983.82" y1="1040.4" x2="1002.22" y2="1040.4" stroke="#472bb5" stroke-width="2" />
<line x1="1172.54" y1="1040.4" x2="1190.94" y2="1040.4" stroke="#472bb5" stroke-width="2" />
<line x1="1172.54" y1="1040.4" x2="1190.94" y2="1040.4" stroke="#472bb5" stroke-width="2" />
<line x1="1361.26" y1="1040.4" x2="1379.66" y2="1040.4" stroke="#472bb5" stroke-width="2" />
<line x1="1361.26" y1="1040.4" x2="1379.66" y2="1040.4" stroke="#472bb5" stroke-width="2" />
<line x1="795.1" y1="1040.4" x2="813.5" y2="1040.4" stroke="#0a97e8" stroke-width="2" />
<line x1="795.1" y1="1040.4" x2="813.5" y2="1040.4" stroke="#0a97e8" stroke-width="2" />
<line x1="818.69" y1="1040.4" x2="837.09" y2="1040.4" stroke="#0a97e8" stroke-width="2" />
<line x1="818.69" y1="1040.4" x2="837.09" y2="1040.4" stroke="#0a97e8" stroke-width="2" />
<line x1="842.28" y1="1040.4" x2="860.68" y2="1040.4" stroke="#0a97e8" stroke-width="2" />
<line x1="842.28" y1="1040.4" x2="860.68" y2="1040.4" stroke="#0a97e8" stroke-width="2" />
<line x1="865.87" y1="1040.4" x2="884.27" y2="1040.4" stroke="#0a97e8" stroke-width="2" />
<line x1="865.87" y1="1040.4" x2="884.27" y2="1040.4" stroke="#0a97e8" stroke-width="2" />
<line x1="889.46" y1="1040.4" x2="907.86" y2="1040.4" stroke="#0a97e8" stroke-width="2" />
<line x1="889.46" y1="1040.4" x2="907.86" y2="1040.4" stroke="#0a97e8" stroke-width="2" />
<line x1="913.05" y1="1040.4" x2="931.45" y2="1040.4" stroke="#0a97e8" stroke-width="2" />
<line x1="913.05" y1="1040.4" x2="931.45" y2="1040.4" stroke="#0a97e8" stroke-width="2" />
<line x1="936.64" y1="1040.4" x2="955.04" y2="1040.4" stroke="#0a97e8" stroke-width="2" />
<line x1="936.64" y1="1040.4" x2="955.04" y2="1040.4" stroke="#0a97e8" stroke-width="2" />
<line x1="983.82" y1="1040.4" x2="1002.22" y2="1040.4" stroke="#0a97e8" stroke-width="2" />
<line x1="983.82" y1="1040.4" x2="1002.22" y2="1040.4" stroke="#0a97e8" stroke-width="2" />
<line x1="1172.54" y1="1040.4" x2="1190.94" y2="1040.4" stroke="#0a97e8" stroke-width="2" />
<line x1="1172.54" y1="1040.4" x2="1190.94" y2="1040.4" stroke="#0a97e8" stroke-width="2" />
<line x1="1361.26" y1="1040.4" x2="1379.66" y2="1040.4" stroke="#0a97e8" stroke-width="2" />
<line x1="1361.26" y1="1040.4" x2="1379.66" y2="1040.4" stroke="#0a97e8" stroke-width="2" />
<line x1="795.1" y1="1040.4" x2="813.5" y2="1040.4" stroke="#0b0b1c" stroke-width="2" />
<line x1="795.1" y1="1040.4" x2="813.5" y2="1040.4" stroke="#0b0b1c" stroke-width="2" />
<line x1="818.69" y1="1040.4" x2="837.09" y2="1040.4" stroke="#0b0b1c" stroke-width="2" />
<line x1="818.69" y1="1040.4" x2="837.09" y2="1040.4" stroke="#0b0b1c" stroke-width="2" />
<line x1="842.28" y1="1040.4" x2="860.68" y2="1040.4" stroke="#0b0b1c" stroke-width="2" />
<line x1="842.28" y1="1040.4" x2="860.68" y2="1040.4" stroke="#0b0b1c" stroke-width="2" />
<line x1="865.87" y1="1040.4" x2="884.27" y2="1040.4" stroke="#0b0b1c" stroke-width="2" />
<line x1="865.87" y1="1040.4" x2="884.27" y2="1040.4" stroke="#0b0b1c" stroke-width="2" />
<line x1="889.46" y1="1040.4" x2="907.86" y2="1040.4" stroke="#0b0b1c" stroke-width="2" />
<line x1="889.46" y1="1040.4" x2="907.86" y2="1040.4" stroke="#0b0b1c" stroke-width="2" />
<line x1="913.05" y1="1040.4" x2="931.45" y2="1040.4" stroke="#0b0b1c" stroke-width="2" />
<line x1="913.05" y1="1040.4" x2="931.45" y2="1040.4" stroke="#0b0b1c" stroke-width="2" />
<line x1="936.64" y1="1040.4" x2="955.04" y2="1040.4" stroke="#0b0b1c" stroke-width="2" />
<line x1="936.64" y1="1040.4" x2="955.04" y2="1040.4" stroke="#0b0b1c" stroke-width="2" />
<line x1="983.82" y1="1040.4" x2="1002.22" y2="1040.4" stroke="#0b0b1c" stroke-width="2" />
<line x1="983.82" y1="1040.4" x2="1002.22" y2="1040.4" stroke="#0b0b1c" stroke-width="2" />
<line x1="1172.54" y1="1040.4" x2="1190.94" y2="1040.4" stroke="#0b0b1c" stroke-width="2" />
<line x1="1172.54" y1="1040.4" x2="1190.94" y2="1040.4" stroke="#0b0b1c" stroke-width="2" />
<line x1="1361.26" y1="1040.4" x2="1379.66" y2="1040.4" stroke="#0b0b1c" stroke-width="2" />
<line x1="1361.26" y1="1040.4" x2="1379.66" y2="1040.4" stroke="#0b0b1c" stroke-width="2" />
<rect x="798.3" y="1034.4" width="12" height="12" fill="#472bb5"/>
<rect x="821.89" y="1034.4" width="12" height="12" fill="#472bb5"/>
<rect x="845.48" y="1034.4" width="12" height="12" fill="#472bb5"/>
<rect x="869.07" y="1034.4" width="12" height="12" fill="#472bb5"/>
<rect x="892.66" y="1034.4" width="12" height="12" fill="#472bb5"/>
<rect x="916.25" y="1034.4" width="12" height="12" fill="#472bb5"/>
<rect x="939.84" y="1034.4" width="12" height="12" fill="#472bb5"/>
<rect x="987.02" y="1034.4" width="12" height="12" fill="#472bb5"/>
<rect x="1175.74" y="1034.4" width="12" height="12" fill="#472bb5"/>
<rect x="1364.46" y="1034.4" width="12" height="12" fill="#472bb5"/>
<circle cx="804.3" cy="1040.4" r="5.4" fill="#0a97e8"/>
<circle cx="827.89" cy="1040.4" r="5.4" fill="#0a97e8"/>
<circle cx="851.48" cy="1040.4" r="5.4" fill="#0a97e8"/>
<circle cx="875.07" cy="1040.4" r="5.4" fill="#0a97e8"/>
<circle cx="898.66" cy="1040.4" r="5.4" fill="#0a97e8"/>
<circle cx="922.25" cy="1040.4" r="5.4" fill="#0a97e8"/>
<circle cx="945.84" cy="1040.4" r="5.4" fill="#0a97e8"/>
<circle cx="993.02" cy="1040.4" r="5.4" fill="#0a97e8"/>
<circle cx="1181.74" cy="1040.4" r="5.4" fill="#0a97e8"/>
<circle cx="1370.46" cy="1040.4" r="5.4" fill="#0a97e8"/>
<polygon points="804.3,1031.86 811.7,1044.67 796.9,1044.67" fill="#0b0b1c"/>
<polygon points="827.89,1031.86 835.29,1044.67 820.49,1044.67" fill="#0b0b1c"/>
<polygon points="851.48,1031.86 858.88,1044.67 844.08,1044.67" fill="#0b0b1c"/>
<polygon points="875.07,1031.86 882.47,1044.67 867.67,1044.67" fill="#0b0b1c"/>
<polygon points="898.66,1031.86 906.06,1044.67 891.26,1044.67" fill="#0b0b1c"/>
<polygon points="922.25,1031.86 929.65,1044.67 914.85,1044.67" fill="#0b0b1c"/>
<polygon points="945.84,1031.86 953.24,1044.67 938.44,1044.67" fill="#0b0b1c"/>
<polygon points="993.02,1031.86 1000.42,1044.67 985.62,1044.67" fill="#0b0b1c"/>
<polygon points="1181.74,1031.86 1189.14,1044.67 1174.34,1044.67" fill="#0b0b1c"/>
<polygon points="1370.46,1031.86 1377.86,1044.67 1363.06,1044.67" fill="#0b0b1c"/>
<line x1="889.8" y1="72.3" x2="889.8" y2="411.4" stroke="#000" stroke-width="2.0" stroke-linecap="butt"/>
<line x1="888.8" y1="410.4" x2="1359.5" y2="410.4" stroke="#000" stroke-width="2.0" />
<line x1="884.8" y1="394.8" x2="889.8" y2="394.8" stroke="#000" stroke-width="2.0" />
<text x="880.2" y="403.6" font-size="25" text-anchor="end" >0</text>
<line x1="884.8" y1="328.03" x2="889.8" y2="328.03" stroke="#000" stroke-width="2.0" />
<text x="880.2" y="336.83" font-size="25" text-anchor="end" >50</text>
<line x1="884.8" y1="261.25" x2="889.8" y2="261.25" stroke="#000" stroke-width="2.0" />
<text x="880.2" y="270.05" font-size="25" text-anchor="end" >100</text>
<line x1="884.8" y1="194.48" x2="889.8" y2="194.48" stroke="#000" stroke-width="2.0" />
<text x="880.2" y="203.28" font-size="25" text-anchor="end" >150</text>
<line x1="884.8" y1="127.7" x2="889.8" y2="127.7" stroke="#000" stroke-width="2.0" />
<text x="880.2" y="136.5" font-size="25" text-anchor="end" >200</text>
<line x1="886.2" y1="361.41" x2="889.8" y2="361.41" stroke="#000" stroke-width="2.0" />
<line x1="886.2" y1="294.64" x2="889.8" y2="294.64" stroke="#000" stroke-width="2.0" />
<line x1="886.2" y1="227.86" x2="889.8" y2="227.86" stroke="#000" stroke-width="2.0" />
<line x1="886.2" y1="161.09" x2="889.8" y2="161.09" stroke="#000" stroke-width="2.0" />
<line x1="886.2" y1="94.31" x2="889.8" y2="94.31" stroke="#000" stroke-width="2.0" />
<line x1="935.81" y1="410.4" x2="935.81" y2="415" stroke="#000" stroke-width="2.0" />
<line x1="953.02" y1="410.4" x2="953.02" y2="415" stroke="#000" stroke-width="2.0" />
<line x1="970.23" y1="410.4" x2="970.23" y2="415" stroke="#000" stroke-width="2.0" />
<line x1="1004.65" y1="410.4" x2="1004.65" y2="415" stroke="#000" stroke-width="2.0" />
<line x1="1021.86" y1="410.4" x2="1021.86" y2="415" stroke="#000" stroke-width="2.0" />
<line x1="1039.07" y1="410.4" x2="1039.07" y2="415" stroke="#000" stroke-width="2.0" />
<line x1="1073.49" y1="410.4" x2="1073.49" y2="415" stroke="#000" stroke-width="2.0" />
<line x1="1090.7" y1="410.4" x2="1090.7" y2="415" stroke="#000" stroke-width="2.0" />
<line x1="1107.91" y1="410.4" x2="1107.91" y2="415" stroke="#000" stroke-width="2.0" />
<line x1="1142.33" y1="410.4" x2="1142.33" y2="415" stroke="#000" stroke-width="2.0" />
<line x1="1159.54" y1="410.4" x2="1159.54" y2="415" stroke="#000" stroke-width="2.0" />
<line x1="1176.75" y1="410.4" x2="1176.75" y2="415" stroke="#000" stroke-width="2.0" />
<line x1="1211.17" y1="410.4" x2="1211.17" y2="415" stroke="#000" stroke-width="2.0" />
<line x1="1228.38" y1="410.4" x2="1228.38" y2="415" stroke="#000" stroke-width="2.0" />
<line x1="1245.59" y1="410.4" x2="1245.59" y2="415" stroke="#000" stroke-width="2.0" />
<line x1="1280.01" y1="410.4" x2="1280.01" y2="415" stroke="#000" stroke-width="2.0" />
<line x1="1297.22" y1="410.4" x2="1297.22" y2="415" stroke="#000" stroke-width="2.0" />
<line x1="1314.43" y1="410.4" x2="1314.43" y2="415" stroke="#000" stroke-width="2.0" />
<line x1="918.6" y1="410.4" x2="918.6" y2="420.4" stroke="#000" stroke-width="2.0" />
<text x="918.6" y="441.7" font-size="25" text-anchor="middle" >0</text>
<line x1="987.44" y1="410.4" x2="987.44" y2="420.4" stroke="#000" stroke-width="2.0" />
<text x="987.44" y="441.7" font-size="25" text-anchor="middle" >2</text>
<line x1="1056.28" y1="410.4" x2="1056.28" y2="420.4" stroke="#000" stroke-width="2.0" />
<text x="1056.28" y="441.7" font-size="25" text-anchor="middle" >4</text>
<line x1="1125.12" y1="410.4" x2="1125.12" y2="420.4" stroke="#000" stroke-width="2.0" />
<text x="1125.12" y="441.7" font-size="25" text-anchor="middle" >6</text>
<line x1="1193.96" y1="410.4" x2="1193.96" y2="420.4" stroke="#000" stroke-width="2.0" />
<text x="1193.96" y="441.7" font-size="25" text-anchor="middle" >8</text>
<line x1="1262.8" y1="410.4" x2="1262.8" y2="420.4" stroke="#000" stroke-width="2.0" />
<text x="1262.8" y="441.7" font-size="25" text-anchor="middle" >10</text>
<line x1="1331.64" y1="410.4" x2="1331.64" y2="420.4" stroke="#000" stroke-width="2.0" />
<text x="1331.64" y="441.7" font-size="25" text-anchor="middle" >12</text>
<text transform="translate(833.4,241.9) rotate(-90)" font-size="25.4" font-weight="bold" text-anchor="middle">Concentration [µg/L]</text>
<polyline points="918.6,394.8 935.81,388.66 953.02,388.66 970.23,388.66 987.44,387.45 1004.65,388.66 1021.86,383.05 1056.28,375.84 1193.96,372.63 1331.64,369.56" fill="none" stroke="#36208f" stroke-width="2" stroke-dasharray="13.299999999999999,5.699999999999999" stroke-linejoin="round"/>
<polyline points="918.6,394.4 935.81,388.66 953.02,384.52 970.23,384.52 987.44,383.31 1004.65,384.52 1021.86,379.71 1056.28,368.76 1193.96,360.34 1331.64,355.27" fill="none" stroke="#1b86c4" stroke-width="2" stroke-dasharray="1.9,5.699999999999999,7.6,5.699999999999999" stroke-linejoin="round"/>
<polyline points="918.6,387.86 935.81,236.94 953.02,221.45 970.23,230.27 987.44,219.05 1004.65,249.76 1021.86,219.85 1056.28,226.66 1193.96,225.06 1331.64,234.67" fill="none" stroke="#0b0b1c" stroke-width="2"  stroke-linejoin="round"/>
<line x1="918.6" y1="393.46" x2="918.6" y2="396.14" stroke="#472bb5" stroke-width="2" />
<line x1="911.9" y1="393.46" x2="925.3" y2="393.46" stroke="#472bb5" stroke-width="2" />
<line x1="911.9" y1="396.14" x2="925.3" y2="396.14" stroke="#472bb5" stroke-width="2" />
<line x1="935.81" y1="387.05" x2="935.81" y2="390.26" stroke="#472bb5" stroke-width="2" />
<line x1="929.11" y1="387.05" x2="942.51" y2="387.05" stroke="#472bb5" stroke-width="2" />
<line x1="929.11" y1="390.26" x2="942.51" y2="390.26" stroke="#472bb5" stroke-width="2" />
<line x1="953.02" y1="387.05" x2="953.02" y2="390.26" stroke="#472bb5" stroke-width="2" />
<line x1="946.32" y1="387.05" x2="959.72" y2="387.05" stroke="#472bb5" stroke-width="2" />
<line x1="946.32" y1="390.26" x2="959.72" y2="390.26" stroke="#472bb5" stroke-width="2" />
<line x1="970.23" y1="387.05" x2="970.23" y2="390.26" stroke="#472bb5" stroke-width="2" />
<line x1="963.53" y1="387.05" x2="976.93" y2="387.05" stroke="#472bb5" stroke-width="2" />
<line x1="963.53" y1="390.26" x2="976.93" y2="390.26" stroke="#472bb5" stroke-width="2" />
<line x1="987.44" y1="385.45" x2="987.44" y2="389.46" stroke="#472bb5" stroke-width="2" />
<line x1="980.74" y1="385.45" x2="994.14" y2="385.45" stroke="#472bb5" stroke-width="2" />
<line x1="980.74" y1="389.46" x2="994.14" y2="389.46" stroke="#472bb5" stroke-width="2" />
<line x1="1004.65" y1="387.05" x2="1004.65" y2="390.26" stroke="#472bb5" stroke-width="2" />
<line x1="997.95" y1="387.05" x2="1011.35" y2="387.05" stroke="#472bb5" stroke-width="2" />
<line x1="997.95" y1="390.26" x2="1011.35" y2="390.26" stroke="#472bb5" stroke-width="2" />
<line x1="1021.86" y1="380.38" x2="1021.86" y2="385.72" stroke="#472bb5" stroke-width="2" />
<line x1="1015.16" y1="380.38" x2="1028.56" y2="380.38" stroke="#472bb5" stroke-width="2" />
<line x1="1015.16" y1="385.72" x2="1028.56" y2="385.72" stroke="#472bb5" stroke-width="2" />
<line x1="1056.28" y1="364.62" x2="1056.28" y2="387.05" stroke="#472bb5" stroke-width="2" />
<line x1="1049.58" y1="364.62" x2="1062.98" y2="364.62" stroke="#472bb5" stroke-width="2" />
<line x1="1049.58" y1="387.05" x2="1062.98" y2="387.05" stroke="#472bb5" stroke-width="2" />
<line x1="1193.96" y1="365.95" x2="1193.96" y2="379.31" stroke="#472bb5" stroke-width="2" />
<line x1="1187.26" y1="365.95" x2="1200.66" y2="365.95" stroke="#472bb5" stroke-width="2" />
<line x1="1187.26" y1="379.31" x2="1200.66" y2="379.31" stroke="#472bb5" stroke-width="2" />
<line x1="1331.64" y1="362.08" x2="1331.64" y2="377.04" stroke="#472bb5" stroke-width="2" />
<line x1="1324.94" y1="362.08" x2="1338.34" y2="362.08" stroke="#472bb5" stroke-width="2" />
<line x1="1324.94" y1="377.04" x2="1338.34" y2="377.04" stroke="#472bb5" stroke-width="2" />
<line x1="918.6" y1="392.4" x2="918.6" y2="396.4" stroke="#0a97e8" stroke-width="2" />
<line x1="911.9" y1="392.4" x2="925.3" y2="392.4" stroke="#0a97e8" stroke-width="2" />
<line x1="911.9" y1="396.4" x2="925.3" y2="396.4" stroke="#0a97e8" stroke-width="2" />
<line x1="935.81" y1="386.52" x2="935.81" y2="390.79" stroke="#0a97e8" stroke-width="2" />
<line x1="929.11" y1="386.52" x2="942.51" y2="386.52" stroke="#0a97e8" stroke-width="2" />
<line x1="929.11" y1="390.79" x2="942.51" y2="390.79" stroke="#0a97e8" stroke-width="2" />
<line x1="953.02" y1="382.38" x2="953.02" y2="386.65" stroke="#0a97e8" stroke-width="2" />
<line x1="946.32" y1="382.38" x2="959.72" y2="382.38" stroke="#0a97e8" stroke-width="2" />
<line x1="946.32" y1="386.65" x2="959.72" y2="386.65" stroke="#0a97e8" stroke-width="2" />
<line x1="970.23" y1="382.38" x2="970.23" y2="386.65" stroke="#0a97e8" stroke-width="2" />
<line x1="963.53" y1="382.38" x2="976.93" y2="382.38" stroke="#0a97e8" stroke-width="2" />
<line x1="963.53" y1="386.65" x2="976.93" y2="386.65" stroke="#0a97e8" stroke-width="2" />
<line x1="987.44" y1="380.64" x2="987.44" y2="385.99" stroke="#0a97e8" stroke-width="2" />
<line x1="980.74" y1="380.64" x2="994.14" y2="380.64" stroke="#0a97e8" stroke-width="2" />
<line x1="980.74" y1="385.99" x2="994.14" y2="385.99" stroke="#0a97e8" stroke-width="2" />
<line x1="1004.65" y1="382.38" x2="1004.65" y2="386.65" stroke="#0a97e8" stroke-width="2" />
<line x1="997.95" y1="382.38" x2="1011.35" y2="382.38" stroke="#0a97e8" stroke-width="2" />
<line x1="997.95" y1="386.65" x2="1011.35" y2="386.65" stroke="#0a97e8" stroke-width="2" />
<line x1="1021.86" y1="374.9" x2="1021.86" y2="384.52" stroke="#0a97e8" stroke-width="2" />
<line x1="1015.16" y1="374.9" x2="1028.56" y2="374.9" stroke="#0a97e8" stroke-width="2" />
<line x1="1015.16" y1="384.52" x2="1028.56" y2="384.52" stroke="#0a97e8" stroke-width="2" />
<line x1="1056.28" y1="354.07" x2="1056.28" y2="383.45" stroke="#0a97e8" stroke-width="2" />
<line x1="1049.58" y1="354.07" x2="1062.98" y2="354.07" stroke="#0a97e8" stroke-width="2" />
<line x1="1049.58" y1="383.45" x2="1062.98" y2="383.45" stroke="#0a97e8" stroke-width="2" />
<line x1="1193.96" y1="351.4" x2="1193.96" y2="369.29" stroke="#0a97e8" stroke-width="2" />
<line x1="1187.26" y1="351.4" x2="1200.66" y2="351.4" stroke="#0a97e8" stroke-width="2" />
<line x1="1187.26" y1="369.29" x2="1200.66" y2="369.29" stroke="#0a97e8" stroke-width="2" />
<line x1="1331.64" y1="345.12" x2="1331.64" y2="365.42" stroke="#0a97e8" stroke-width="2" />
<line x1="1324.94" y1="345.12" x2="1338.34" y2="345.12" stroke="#0a97e8" stroke-width="2" />
<line x1="1324.94" y1="365.42" x2="1338.34" y2="365.42" stroke="#0a97e8" stroke-width="2" />
<line x1="918.6" y1="379.84" x2="918.6" y2="395.87" stroke="#0b0b1c" stroke-width="2" />
<line x1="911.9" y1="379.84" x2="925.3" y2="379.84" stroke="#0b0b1c" stroke-width="2" />
<line x1="911.9" y1="395.87" x2="925.3" y2="395.87" stroke="#0b0b1c" stroke-width="2" />
<line x1="935.81" y1="206.49" x2="935.81" y2="267.39" stroke="#0b0b1c" stroke-width="2" />
<line x1="929.11" y1="206.49" x2="942.51" y2="206.49" stroke="#0b0b1c" stroke-width="2" />
<line x1="929.11" y1="267.39" x2="942.51" y2="267.39" stroke="#0b0b1c" stroke-width="2" />
<line x1="953.02" y1="177.91" x2="953.02" y2="264.99" stroke="#0b0b1c" stroke-width="2" />
<line x1="946.32" y1="177.91" x2="959.72" y2="177.91" stroke="#0b0b1c" stroke-width="2" />
<line x1="946.32" y1="264.99" x2="959.72" y2="264.99" stroke="#0b0b1c" stroke-width="2" />
<line x1="970.23" y1="205.29" x2="970.23" y2="255.24" stroke="#0b0b1c" stroke-width="2" />
<line x1="963.53" y1="205.29" x2="976.93" y2="205.29" stroke="#0b0b1c" stroke-width="2" />
<line x1="963.53" y1="255.24" x2="976.93" y2="255.24" stroke="#0b0b1c" stroke-width="2" />
<line x1="987.44" y1="177.91" x2="987.44" y2="260.18" stroke="#0b0b1c" stroke-width="2" />
<line x1="980.74" y1="177.91" x2="994.14" y2="177.91" stroke="#0b0b1c" stroke-width="2" />
<line x1="980.74" y1="260.18" x2="994.14" y2="260.18" stroke="#0b0b1c" stroke-width="2" />
<line x1="1004.65" y1="200.48" x2="1004.65" y2="299.04" stroke="#0b0b1c" stroke-width="2" />
<line x1="997.95" y1="200.48" x2="1011.35" y2="200.48" stroke="#0b0b1c" stroke-width="2" />
<line x1="997.95" y1="299.04" x2="1011.35" y2="299.04" stroke="#0b0b1c" stroke-width="2" />
<line x1="1021.86" y1="181.39" x2="1021.86" y2="258.31" stroke="#0b0b1c" stroke-width="2" />
<line x1="1015.16" y1="181.39" x2="1028.56" y2="181.39" stroke="#0b0b1c" stroke-width="2" />
<line x1="1015.16" y1="258.31" x2="1028.56" y2="258.31" stroke="#0b0b1c" stroke-width="2" />
<line x1="1056.28" y1="121.16" x2="1056.28" y2="332.17" stroke="#0b0b1c" stroke-width="2" />
<line x1="1049.58" y1="121.16" x2="1062.98" y2="121.16" stroke="#0b0b1c" stroke-width="2" />
<line x1="1049.58" y1="332.17" x2="1062.98" y2="332.17" stroke="#0b0b1c" stroke-width="2" />
<line x1="1193.96" y1="211.7" x2="1193.96" y2="238.41" stroke="#0b0b1c" stroke-width="2" />
<line x1="1187.26" y1="211.7" x2="1200.66" y2="211.7" stroke="#0b0b1c" stroke-width="2" />
<line x1="1187.26" y1="238.41" x2="1200.66" y2="238.41" stroke="#0b0b1c" stroke-width="2" />
<line x1="1331.64" y1="184.19" x2="1331.64" y2="285.16" stroke="#0b0b1c" stroke-width="2" />
<line x1="1324.94" y1="184.19" x2="1338.34" y2="184.19" stroke="#0b0b1c" stroke-width="2" />
<line x1="1324.94" y1="285.16" x2="1338.34" y2="285.16" stroke="#0b0b1c" stroke-width="2" />
<rect x="912.6" y="388.8" width="12" height="12" fill="#472bb5"/>
<rect x="929.81" y="382.66" width="12" height="12" fill="#472bb5"/>
<rect x="947.02" y="382.66" width="12" height="12" fill="#472bb5"/>
<rect x="964.23" y="382.66" width="12" height="12" fill="#472bb5"/>
<rect x="981.44" y="381.45" width="12" height="12" fill="#472bb5"/>
<rect x="998.65" y="382.66" width="12" height="12" fill="#472bb5"/>
<rect x="1015.86" y="377.05" width="12" height="12" fill="#472bb5"/>
<rect x="1050.28" y="369.84" width="12" height="12" fill="#472bb5"/>
<rect x="1187.96" y="366.63" width="12" height="12" fill="#472bb5"/>
<rect x="1325.64" y="363.56" width="12" height="12" fill="#472bb5"/>
<circle cx="918.6" cy="394.4" r="5.4" fill="#0a97e8"/>
<circle cx="935.81" cy="388.66" r="5.4" fill="#0a97e8"/>
<circle cx="953.02" cy="384.52" r="5.4" fill="#0a97e8"/>
<circle cx="970.23" cy="384.52" r="5.4" fill="#0a97e8"/>
<circle cx="987.44" cy="383.31" r="5.4" fill="#0a97e8"/>
<circle cx="1004.65" cy="384.52" r="5.4" fill="#0a97e8"/>
<circle cx="1021.86" cy="379.71" r="5.4" fill="#0a97e8"/>
<circle cx="1056.28" cy="368.76" r="5.4" fill="#0a97e8"/>
<circle cx="1193.96" cy="360.34" r="5.4" fill="#0a97e8"/>
<circle cx="1331.64" cy="355.27" r="5.4" fill="#0a97e8"/>
<polygon points="918.6,379.31 926,392.13 911.2,392.13" fill="#0b0b1c"/>
<polygon points="935.81,228.4 943.21,241.22 928.41,241.22" fill="#0b0b1c"/>
<polygon points="953.02,212.91 960.42,225.72 945.62,225.72" fill="#0b0b1c"/>
<polygon points="970.23,221.72 977.63,234.54 962.83,234.54" fill="#0b0b1c"/>
<polygon points="987.44,210.5 994.84,223.32 980.04,223.32" fill="#0b0b1c"/>
<polygon points="1004.65,241.22 1012.05,254.04 997.25,254.04" fill="#0b0b1c"/>
<polygon points="1021.86,211.3 1029.26,224.12 1014.46,224.12" fill="#0b0b1c"/>
<polygon points="1056.28,218.12 1063.68,230.93 1048.88,230.93" fill="#0b0b1c"/>
<polygon points="1193.96,216.51 1201.36,229.33 1186.56,229.33" fill="#0b0b1c"/>
<polygon points="1331.64,226.13 1339.04,238.95 1324.24,238.95" fill="#0b0b1c"/>
<rect x="1142.6" y="615.7" width="211.5" height="154.7" fill="#fff" stroke="#000" stroke-width="2"/>
<text x="1154.3" y="641.3" font-size="27.5" text-anchor="start" font-weight="bold" >Explosives</text>
<line x1="1155.9" y1="675.4" x2="1182.9" y2="675.4" stroke="#1b86c4" stroke-width="2.0" />
<circle cx="1169.4" cy="675.4" r="5.4" fill="#0a97e8"/>
<text x="1200.8" y="685.2" font-size="28" text-anchor="start" >4-ADNT-d5</text>
<line x1="1155.9" y1="709.6" x2="1182.9" y2="709.6" stroke="#36208f" stroke-width="2.0" />
<rect x="1163.4" y="703.6" width="12" height="12" fill="#472bb5"/>
<text x="1200.8" y="719.1" font-size="28" text-anchor="start" >2-ADNT-d5</text>
<line x1="1155.9" y1="743.8" x2="1182.9" y2="743.8" stroke="#0b0b1c" stroke-width="2.0" />
<polygon points="1169.4,735.14 1176.9,748.13 1161.9,748.13" fill="#0b0b1c"/>
<text x="1200.8" y="753" font-size="28" text-anchor="start" >TNT-d5</text>
</svg></body></html>
